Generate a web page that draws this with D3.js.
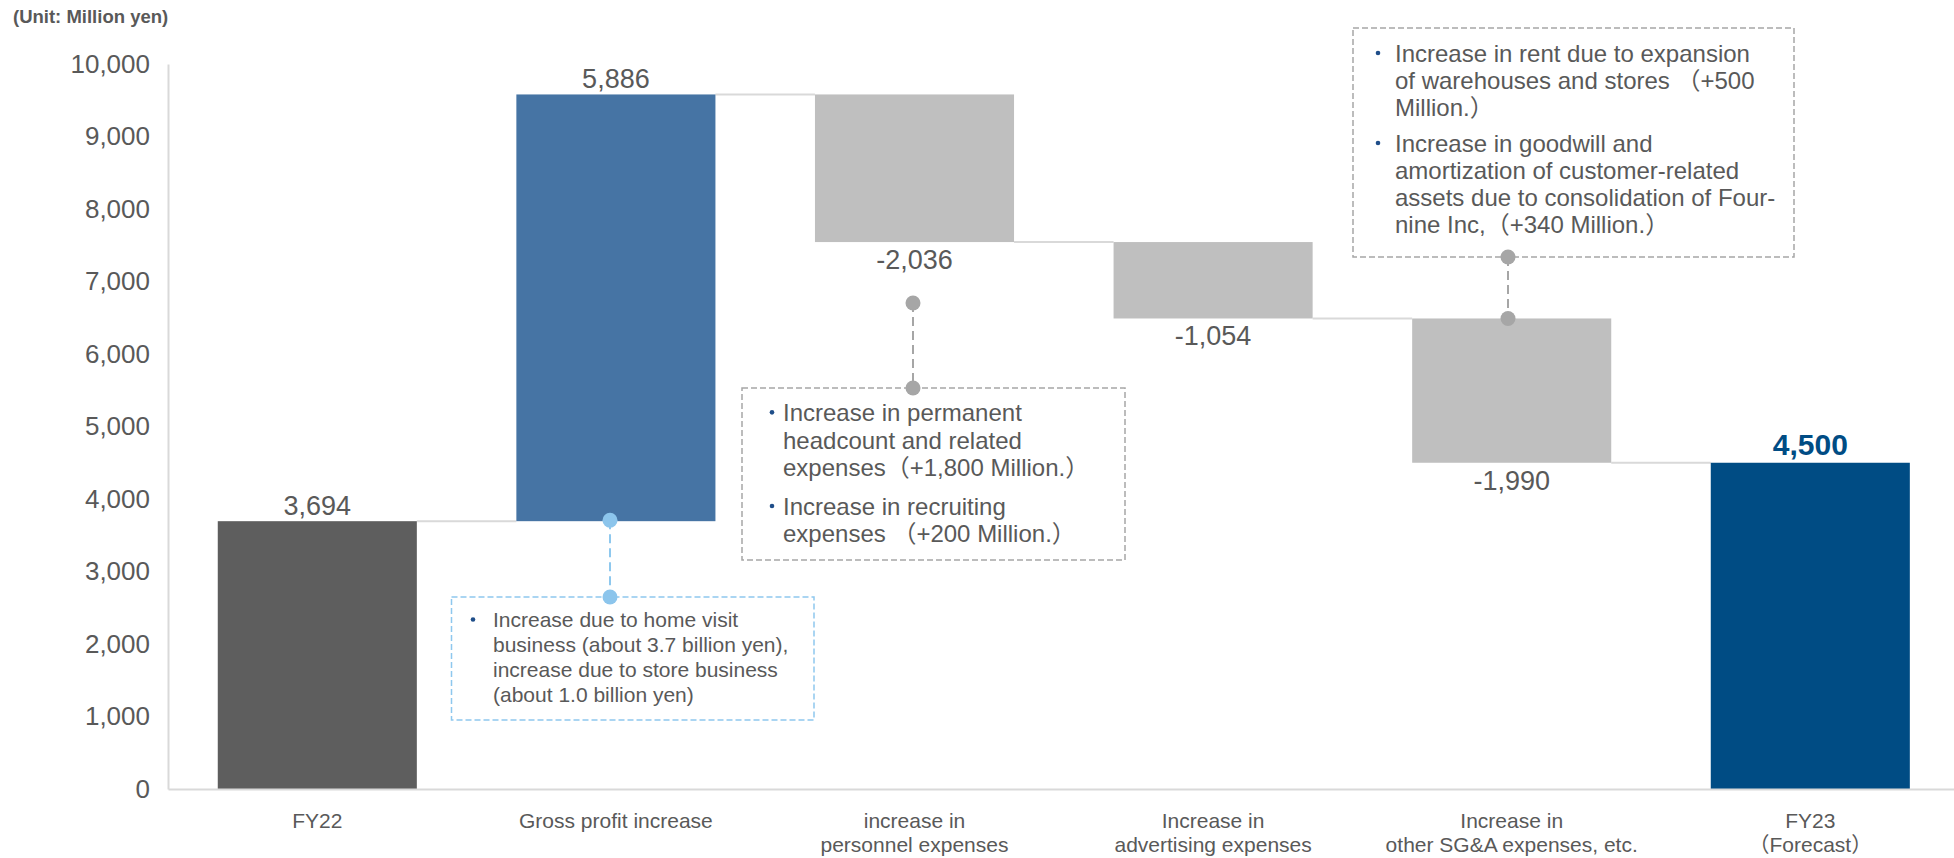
<!DOCTYPE html>
<html>
<head>
<meta charset="utf-8">
<script src="https://cdn.jsdelivr.net/npm/d3@7"></script>
<style>
  html, body { margin: 0; padding: 0; background: #fff; }
  svg { display: block; }
  text { font-family: "Liberation Sans", Arial, "Noto Sans CJK JP", sans-serif; }
</style>
</head>
<body>
<svg id="chart" width="1954" height="858"></svg>
<script>
// ---- data ----
const categories = [
  "FY22",
  "Gross profit increase",
  "increase in\npersonnel expenses",
  "Increase in\nadvertising expenses",
  "Increase in\nother SG&A expenses, etc.",
  "FY23\n（Forecast）"
];
const startValue = 3694;                       // FY22 operating profit
const changes = [5886, -2036, -1054, -1990];   // bridge items
const endValue = 4500;                         // FY23 forecast
const yTicks = [0, 1000, 2000, 3000, 4000, 5000, 6000, 7000, 8000, 9000, 10000];
const unitLabel = "(Unit: Million yen)";

const noteGross = [
  ["Increase due to home visit", "business (about 3.7 billion yen),", "increase due to store business", "(about 1.0 billion yen)"]
];
const notePersonnel = [
  ["Increase in permanent", "headcount and related", "expenses（+1,800 Million.）"],
  ["Increase in recruiting", "expenses （+200 Million.）"]
];
const noteOther = [
  ["Increase in rent due to expansion", "of warehouses and stores （+500", "Million.）"],
  ["Increase in goodwill and", "amortization of customer-related", "assets due to consolidation of Four-", "nine Inc,（+340 Million.）"]
];

// ---- build waterfall steps ----
const fmt = d3.formatLocale({decimal: ".", thousands: ",", grouping: [3], currency: ["", ""], minus: "-"}).format(",");
const steps = [];
steps.push({cat: categories[0], y0: 0, y1: startValue, value: startValue, kind: "start"});
let running = startValue;
changes.forEach((c, i) => {
  steps.push({cat: categories[i + 1], y0: running, y1: running + c, value: c, kind: c >= 0 ? "up" : "down"});
  running += c;
});
steps.push({cat: categories[5], y0: 0, y1: endValue, value: endValue, kind: "end"});

const colors = {start: "#5e5e5e", up: "#4674a4", down: "#bfbfbf", end: "#004c84"};
const textColor = "#595959";

// ---- layout ----
const svg = d3.select("#chart");
const plotLeft = 168, plotBottom = 789, plotTop = 64;
const bandStep = 298.6;
const x = d3.scaleBand().domain(categories)
  .range([plotLeft, plotLeft + bandStep * categories.length])
  .paddingInner(1 / 3).paddingOuter(1 / 6);
const y = d3.scaleLinear().domain([0, 10000]).range([plotBottom, plotTop]);

svg.append("rect").attr("width", 1954).attr("height", 858).attr("fill", "#fff");

// unit label
svg.append("text").attr("x", 13).attr("y", 23)
  .attr("font-size", 18.5).attr("font-weight", "bold").attr("fill", textColor)
  .text(unitLabel);

// y axis
const yAxis = svg.append("g").attr("transform", `translate(${plotLeft},0)`)
  .call(d3.axisLeft(y).tickValues(yTicks).tickSize(0).tickPadding(18).tickFormat(fmt));
yAxis.select(".domain").attr("stroke", "#d9d9d9").attr("stroke-width", 2);
yAxis.selectAll("text").attr("font-size", 26).attr("fill", textColor)
  .attr("font-family", "'Liberation Sans', Arial, sans-serif");

// connectors between bars at each running total
const conn = svg.append("g");
for (let i = 0; i < steps.length - 1; i++) {
  const level = steps[i].y1;
  conn.append("line")
    .attr("x1", x(steps[i].cat) + x.bandwidth()).attr("x2", x(steps[i + 1].cat))
    .attr("y1", y(level)).attr("y2", y(level))
    .attr("stroke", "#d9d9d9").attr("stroke-width", 2);
}

// bars
svg.append("g").selectAll("rect").data(steps).join("rect")
  .attr("x", d => x(d.cat))
  .attr("width", x.bandwidth())
  .attr("y", d => y(Math.max(d.y0, d.y1)))
  .attr("height", d => Math.abs(y(d.y0) - y(d.y1)))
  .attr("fill", d => colors[d.kind]);

// x axis
const xAxis = svg.append("g").attr("transform", `translate(0,${plotBottom})`)
  .call(d3.axisBottom(x).tickSize(0).tickSizeOuter(0));
xAxis.select(".domain").attr("stroke", "#d9d9d9").attr("stroke-width", 2);
xAxis.selectAll(".tick text").each(function(d) {
  const t = d3.select(this);
  t.text(null).attr("y", 0).attr("dy", null).attr("font-size", 21).attr("fill", textColor)
    .attr("font-family", "'Liberation Sans', Arial, 'Noto Sans CJK JP', sans-serif");
  d.split("\n").forEach((line, i) => {
    t.append("tspan").attr("x", 0).attr("y", 39 + i * 23.5).text(line);
  });
});

// value labels
svg.append("g").selectAll("text").data(steps).join("text")
  .attr("x", d => x(d.cat) + x.bandwidth() / 2)
  .attr("y", d => d.kind === "down" ? y(d.y1) + 27 : y(d.y1) - (d.kind === "end" ? 8 : 6))
  .attr("text-anchor", "middle")
  .attr("font-size", d => d.kind === "end" ? 30 : 27)
  .attr("font-weight", d => d.kind === "end" ? "bold" : "normal")
  .attr("fill", d => d.kind === "end" ? "#004c84" : textColor)
  .text(d => fmt(d.value));

// ---- annotation callouts ----
function callout(opt) {
  const g = svg.append("g");
  g.append("rect")
    .attr("x", opt.box[0]).attr("y", opt.box[1]).attr("width", opt.box[2]).attr("height", opt.box[3])
    .attr("fill", "none").attr("stroke", opt.color).attr("stroke-width", 1.5).attr("stroke-dasharray", "6,3");
  g.append("line")
    .attr("x1", opt.dots[0][0]).attr("y1", opt.dots[0][1])
    .attr("x2", opt.dots[1][0]).attr("y2", opt.dots[1][1])
    .attr("stroke", opt.color).attr("stroke-width", 2).attr("stroke-dasharray", "9,5");
  opt.dots.forEach(p => g.append("circle").attr("cx", p[0]).attr("cy", p[1]).attr("r", 7.5).attr("fill", opt.dotColor));
  let base = opt.firstBaseline;
  opt.paragraphs.forEach((para, pi) => {
    if (pi > 0) base += opt.paraGap;
    g.append("circle").attr("cx", opt.bulletX).attr("cy", base - opt.fontSize * 0.36).attr("r", 2.3).attr("fill", "#1f4e89");
    para.forEach((line, li) => {
      if (li > 0) base += opt.lineHeight;
      g.append("text").attr("x", opt.textX).attr("y", base)
        .attr("font-size", opt.fontSize).attr("fill", textColor).text(line);
    });
    base += opt.lineHeight;
  });
}

callout({
  paragraphs: noteGross, color: "#8ec8ee", dotColor: "#8cc5ec",
  box: [451.5, 597, 362.5, 123], dots: [[610, y(startValue) - 1], [610, 597]],
  textX: 493, bulletX: 473, firstBaseline: 627, lineHeight: 25, paraGap: 0, fontSize: 21
});
callout({
  paragraphs: notePersonnel, color: "#a6a6a6", dotColor: "#a6a6a6",
  box: [742, 388, 383, 172], dots: [[913, 303], [913, 388]],
  textX: 783, bulletX: 772, firstBaseline: 421, lineHeight: 27.7, paraGap: 10.6, fontSize: 24
});
callout({
  paragraphs: noteOther, color: "#a6a6a6", dotColor: "#a6a6a6",
  box: [1353, 28, 441, 229], dots: [[1508, 257], [1508, y(steps[3].y1)]],
  textX: 1395, bulletX: 1378, firstBaseline: 61.7, lineHeight: 27, paraGap: 9, fontSize: 24
});
</script>
</body>
</html>
